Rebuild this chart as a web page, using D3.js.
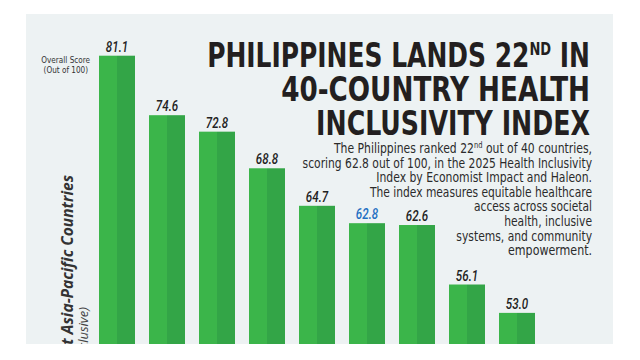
<!DOCTYPE html>
<html><head><meta charset="utf-8">
<script src="https://cdn.jsdelivr.net/npm/d3@7"></script>
<style>
html,body{margin:0;padding:0;background:#fff;}
svg{display:block;}
</style></head>
<body>
<script>
// ---- data ----
const categories = ["C1","C2","C3","C4","C5","Philippines","C7","C8","C9"];
const scores = [81.1, 74.6, 72.8, 68.8, 64.7, 62.8, 62.6, 56.1, 53.0];
const highlight = "Philippines";
const titleLines = ["PHILIPPINES LANDS 22", "40-COUNTRY HEALTH", "INCLUSIVITY INDEX"];
const bodyLines = [
  "The Philippines ranked 22|nd| out of 40 countries,",
  "scoring 62.8 out of 100, in the 2025 Health Inclusivity",
  "Index by Economist Impact and Haleon.",
  "The index measures equitable healthcare",
  "access across societal",
  "health, inclusive",
  "systems, and community",
  "empowerment."
];
const axisLabel = ["Overall Score", "(Out of 100)"];
const sideLabel = ["Select Asia-Pacific Countries", "(Philippines inclusive)"];

const W = 640, H = 360;
const svg = d3.select("body").append("svg").attr("width", W).attr("height", H);

const panel = {x0: 26, y0: 14, x1: 613, y1: 344};
svg.append("rect").attr("x", panel.x0).attr("y", panel.y0)
  .attr("width", panel.x1 - panel.x0).attr("height", panel.y1 - panel.y0)
  .attr("fill", "#edf2f3");

svg.append("defs").append("clipPath").attr("id", "pclip")
  .append("rect").attr("x", panel.x0).attr("y", panel.y0)
  .attr("width", panel.x1 - panel.x0).attr("height", panel.y1 - panel.y0);

const x = d3.scaleBand().domain(categories).range([99, 535]).paddingInner(0.28).paddingOuter(0);
const y = d3.scaleLinear().domain([49.6, 81.1]).range([344, 55.7]);

const cond = "'DejaVu Sans Condensed','DejaVu Sans',sans-serif";

// bars (two tones)
const g = svg.append("g");
const data = categories.map((c, i) => ({c, v: scores[i]}));
g.selectAll("rect.l").data(data).join("rect").attr("class", "l")
  .attr("x", d => x(d.c)).attr("y", d => y(d.v))
  .attr("width", x.bandwidth() / 2).attr("height", d => y.range()[0] - y(d.v))
  .attr("fill", "#3bb54a");
g.selectAll("rect.r").data(data).join("rect").attr("class", "r")
  .attr("x", d => x(d.c) + x.bandwidth() / 2).attr("y", d => y(d.v))
  .attr("width", x.bandwidth() / 2).attr("height", d => y.range()[0] - y(d.v))
  .attr("fill", "#33a547");

g.selectAll("text.val").data(data).join("text").attr("class", "val")
  .attr("transform", d => `translate(${x(d.c) + x.bandwidth() / 2},${y(d.v) - 4}) scale(0.8,1)`)
  .attr("text-anchor", "middle")
  .attr("font-family", "Roboto,'DejaVu Sans',sans-serif").attr("font-style", "italic").attr("font-weight", 500)
  .attr("font-size", 14.5)
  .attr("fill", d => d.c === highlight ? "#1f6fc2" : "#222")
  .text(d => d.v.toFixed(1));

// axis label
svg.append("text").attr("transform", "translate(90,63) scale(0.9,1)").attr("text-anchor", "end")
  .attr("font-family", cond).attr("font-size", 9).attr("fill", "#333").text(axisLabel[0]);
svg.append("text").attr("transform", "translate(88,73) scale(0.9,1)").attr("text-anchor", "end")
  .attr("font-family", cond).attr("font-size", 9).attr("fill", "#333").text(axisLabel[1]);

// side rotated label
const side = svg.append("g").attr("clip-path", "url(#pclip)");
side.append("text").attr("transform", "translate(73,175) rotate(-90)")
  .attr("text-anchor", "end").attr("font-family", "'Open Sans','DejaVu Sans',sans-serif")
  .attr("font-weight", "bold").attr("font-style", "italic").attr("font-size", 15.5)
  .attr("fill", "#333").text(sideLabel[0]);
side.append("text").attr("transform", "translate(88,307) rotate(-90)")
  .attr("text-anchor", "end").attr("font-family", "'Open Sans','DejaVu Sans',sans-serif")
  .attr("font-style", "italic").attr("font-size", 13)
  .attr("fill", "#444").text(sideLabel[1]);

// fit helper: scale horizontally so width matches target
function fit(sel, right, baseline, target) {
  const w = sel.node().getBBox().width;
  const s = w > 0 ? target / w : 1;
  sel.attr("transform", `translate(${right},${baseline}) scale(${s},1)`);
}

// title
const tfont = "'DejaVu Sans Condensed','DejaVu Sans',sans-serif";
const tTargets = [383, 309, 274];
const tBase = [66.7, 101, 135];
titleLines.forEach((t, i) => {
  const tx = svg.append("text").attr("x", 0).attr("y", 0).attr("text-anchor", "end")
    .attr("font-family", tfont).attr("font-weight", "bold").attr("font-size", 34.5)
    .attr("fill", "#231f20");
  if (i === 0) {
    tx.append("tspan").text(t);
    tx.append("tspan").attr("dy", -12).attr("font-size", 18).text("ND");
    tx.append("tspan").attr("dy", 12).text(" IN");
  } else {
    tx.text(t);
  }
  fit(tx, 590, tBase[i], tTargets[i]);
});

// body text
const bTargets = [259, 290, 216, 223, 118, 88, 136, 84];
bodyLines.forEach((t, i) => {
  const tx = svg.append("text").attr("x", 0).attr("y", 0).attr("text-anchor", "end")
    .attr("font-family", cond).attr("font-size", 14.5).attr("fill", "#2b2b2b");
  const parts = t.split("|");
  if (parts.length === 3) {
    tx.append("tspan").text(parts[0]);
    tx.append("tspan").attr("dy", -5).attr("font-size", 9).text(parts[1]);
    tx.append("tspan").attr("dy", 5).text(parts[2]);
  } else tx.text(t);
  fit(tx, 592, 153 + i * 14.6, bTargets[i]);
});
</script>
</body></html>
